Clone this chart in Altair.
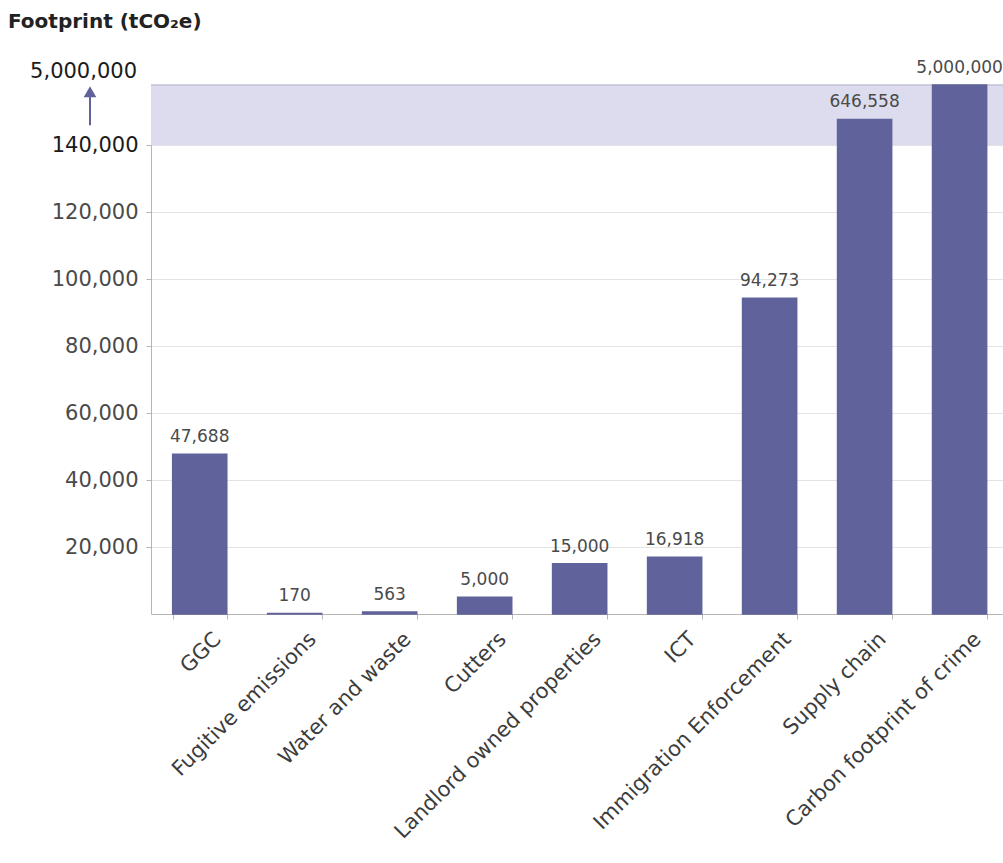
import altair as alt
import pandas as pd

# Footprint by source, tCO2e
categories = [
    "GGC",
    "Fugitive emissions",
    "Water and waste",
    "Cutters",
    "Landlord owned properties",
    "ICT",
    "Immigration Enforcement",
    "Supply chain",
    "Carbon footprint of crime",
]
footprint = [47688, 170, 563, 5000, 15000, 16918, 94273, 646558, 5000000]

# Linear y-axis ticks below the break
y_ticks = [20000, 40000, 60000, 80000, 100000, 120000, 140000]

# Broken axis: above BREAK the scale is log-compressed into a band that
# reaches TOP (axis units) at the largest value
BREAK = 140000
TOP = 158000
MAX_VALUE = 5000000

BAR = "#60639b"
BAND = "#dcdcee"
TEXT = "#3c3c3c"
FONT = "DejaVu Sans"

W, H = 852, 529

df = pd.DataFrame({"category": categories, "value": footprint})
one = pd.DataFrame({"k": [0]})

y_scale = alt.Scale(domain=[0, TOP], nice=False, zero=True)
x_scale = alt.Scale(paddingInner=0.43, paddingOuter=0.2, align=0.57)

y_axis = alt.Axis(
    values=y_ticks,
    labelExpr="format(datum.value, ',.0f')",
    labelFontSize=21,
    labelFont=FONT,
    labelColor={"condition": {"test": f"datum.value == {BREAK}", "value": "#1a1a1a"}, "value": "#4a4a4a"},
    labelPadding=8,
    tickSize=5,
    tickColor="#b5b5b5",
    domainColor="#b5b5b5",
    gridColor="#e4e4e4",
)

x_enc = alt.X(
    "category:N",
    sort=categories,
    scale=x_scale,
    title=None,
    axis=alt.Axis(
        labelAngle=315,
        labelAlign="right",
        labelBaseline="top",
        labelOffset=10,
        labelPadding=9,
        labelFontSize=21,
        labelFont=FONT,
        labelColor=TEXT,
        labelLimit=400,
        tickBand="extent",
        tickSize=5,
        tickColor="#b5b5b5",
        domainColor="#b5b5b5",
        grid=False,
    ),
)


def y_field(name):
    return alt.Y(name, scale=y_scale, axis=y_axis, title=None)


compress = (
    f"datum.value <= {BREAK} ? datum.value : "
    f"{BREAK} + {TOP - BREAK} * log(datum.value / {BREAK}) / log({MAX_VALUE} / {BREAK})"
)

base = alt.Chart(df).transform_calculate(plotted=compress)

band = alt.Chart(one).mark_rect(color=BAND).encode(
    x=alt.value(0),
    x2=alt.value(W),
    y=y_field("lo:Q"),
    y2="hi:Q",
).transform_calculate(lo=str(BREAK), hi=str(TOP))

band_edge = alt.Chart(one).mark_rule(color="#c2c2d6", strokeWidth=1.5).encode(
    x=alt.value(0),
    x2=alt.value(W),
    y=y_field("hi:Q"),
).transform_calculate(hi=str(TOP))

bars = base.mark_bar(color=BAR, stroke=BAR, strokeWidth=1.5).encode(
    x=x_enc,
    y=y_field("plotted:Q"),
)

labels = base.mark_text(
    font=FONT, fontSize=17, color="#4a4a4a", baseline="alphabetic", dy=-12
).encode(
    x=x_enc,
    y=y_field("plotted:Q"),
    text=alt.Text("value:Q", format=","),
)

# Arrow and label marking the top of the broken axis
arrow_shaft = alt.Chart(one).mark_rule(color=BAR, strokeWidth=2).encode(
    x=alt.value(-61),
    y=y_field("a:Q"),
    y2="b:Q",
).transform_calculate(a="146000", b="155000")

arrow_head = alt.Chart(one).mark_point(
    shape="triangle-up", filled=True, color=BAR, size=160, opacity=1
).encode(
    x=alt.value(-61),
    y=y_field("b:Q"),
).transform_calculate(b="156000")

top_label = alt.Chart(one).mark_text(
    font=FONT, fontSize=21, color="#1a1a1a",
    align="right", baseline="middle",
).encode(
    x=alt.value(-14),
    y=y_field("t:Q"),
    text=alt.value(f"{MAX_VALUE:,}"),
).transform_calculate(t="162000")

heading = alt.Chart(one).mark_text(
    font=FONT, fontSize=20, fontWeight="bold", color="#222222",
    align="left", baseline="middle",
).encode(
    x=alt.value(-143),
    y=alt.value(-63),
    text=alt.value("Footprint (tCO₂e)"),
)

chart = (
    alt.layer(band, band_edge, bars, labels, arrow_shaft, arrow_head, top_label, heading)
    .properties(
        width=W,
        height=H,
        autosize=alt.AutoSizeParams(type="none"),
        padding={"left": 151, "top": 85, "right": 0, "bottom": 249},
        background="white",
    )
    .configure_view(stroke=None)
)

chart.save("out.html", embed_options={"renderer": "svg", "actions": False})
